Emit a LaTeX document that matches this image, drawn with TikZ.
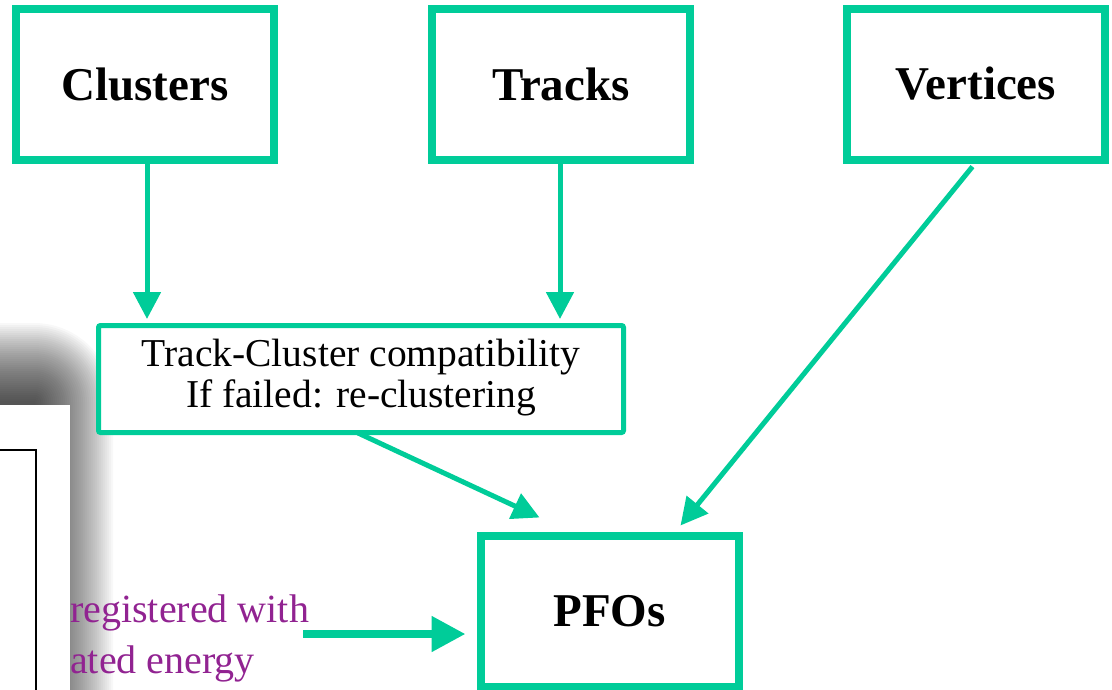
\documentclass[tikz,border=0pt]{standalone}
\usepackage{fontspec}
\setmainfont{Liberation Serif}
\usetikzlibrary{arrows.meta}
\definecolor{pfgreen}{RGB}{0,204,153}
\definecolor{pfpurple}{RGB}{145,35,145}
\tikzset{
  bigbox/.style={draw=pfgreen, line width=8pt, fill=white, minimum width=258pt, minimum height=151pt, inner sep=0pt, font=\fontsize{47}{50}\selectfont\bfseries},
  midbox/.style={draw=pfgreen, line width=5pt, rounded corners=2pt, fill=white, minimum width=525pt, minimum height=107pt, inner sep=0pt, align=center, font=\fontsize{39.5}{42}\selectfont},
  arr/.style={draw=pfgreen, line width=5pt, -{Triangle[length=27pt,width=27pt]}},
  bigarr/.style={draw=pfgreen, line width=8pt, -{Triangle[length=34pt,width=34pt]}},
  note/.style={text=pfpurple, font=\fontsize{40}{42}\selectfont, inner sep=0pt, anchor=base west},
  shadowlayer/.style={fill=black, fill opacity=0.027}
}
\begin{document}
\begin{tikzpicture}[x=1pt,y=-1pt]
\useasboundingbox (0,0) rectangle (1112,689);
\clip (0,0) rectangle (1112,689);
% soft shadow of the left panel
\foreach \r in {1,3,...,79} {
  \fill[shadowlayer, rounded corners=\r pt] (-150,402-\r) rectangle (34+\r,800);
}
\fill[white] (-60,405) rectangle (70,760);
\draw[line width=1.5pt] (-5,450) -- (36,450) -- (36,700);
% nodes
\node[bigbox] (cl) at (145,84) {Clusters};
\node[bigbox] (tr) at (561,84) {Tracks};
\node[bigbox] (vt) at (976,84) {Vertices};
\node[midbox] (tc) at (361,379) {\raisebox{-3pt}{\begin{tabular}{@{}c@{}}Track-Cluster compatibility\\[-1pt]If failed: re-clustering\end{tabular}}};
\node[bigbox] (pf) at (609.5,611) {PFOs};
% purple text
\node[note] (t1) at (70,622) {registered with};
\node[note] (t2) at (70,673) {ated energy};
% connectors
\draw[arr] ([xshift=2pt]cl.south) -- ([xshift=2pt,yshift=4pt]cl.south |- tc.north);
\draw[arr] ([xshift=-1pt]tr.south) -- ([xshift=-1pt,yshift=4pt]tr.south |- tc.north);
\draw[arr, shorten <=4pt] ([xshift=-1pt]vt.south) -- ([xshift=71pt,yshift=6pt]pf.north);
\draw[arr] ([xshift=-3pt,yshift=2pt]tc.south) -- ([xshift=-70pt,yshift=14pt]pf.north);
\coordinate (src) at (303,634);
\draw[bigarr] (src) -- (src -| pf.west) [shorten >=11pt];
\end{tikzpicture}
\end{document}
